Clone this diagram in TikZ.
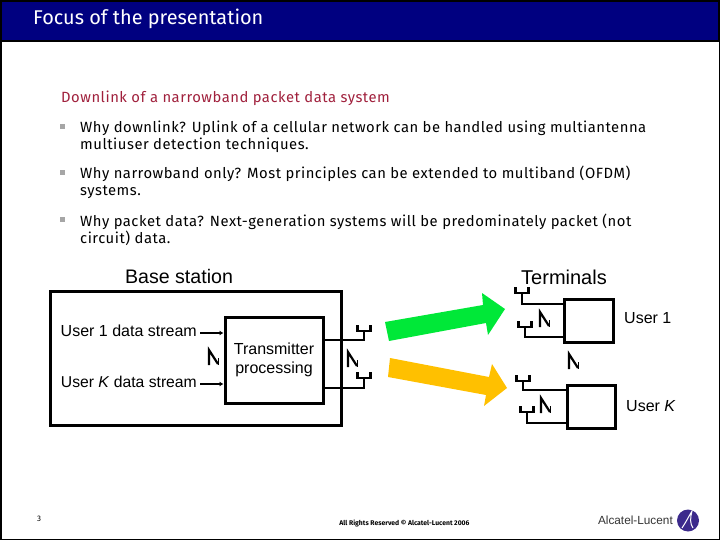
\documentclass[tikz,border=0pt]{standalone}
\usepackage{fontspec}
\usetikzlibrary{arrows.meta}
\setmainfont{Liberation Sans}
\newfontfamily\slidefont[LetterSpace=3.5]{Fira Sans}
\newfontfamily\titlefont{Fira Sans}
\definecolor{titlenavy}{HTML}{000080}
\definecolor{headred}{HTML}{A0203C}
\definecolor{beamgreen}{HTML}{00E838}
\definecolor{beamyellow}{HTML}{FFC000}
\definecolor{logopurple}{HTML}{3C2A8C}
\tikzset{
	wire/.style={line width=2.4pt},
	box/.style={draw, line width=3pt, inner sep=0pt},
	bodytext/.style={anchor=west, align=left, inner sep=0pt, font=\slidefont\fontsize{14.8}{16.8}\selectfont},
	bullet/.style={fill=gray!70, minimum size=5pt, inner sep=0pt},
	difflabel/.style={inner sep=0pt, font=\fontsize{16}{19}\selectfont},
	headlabel/.style={inner sep=0pt, font=\fontsize{19.6}{23}\selectfont},
	antenna/.pic={\draw[wire] (-6.5,-6) -- (-6.5,0) -- (6.5,0) -- (6.5,-6);},
	dotsmark/.pic={\draw[line width=2.2pt] (0,15) -- (0,0) -- (9,14); \draw[line width=0.8pt] (9.5,14.5) -- (9.5,8);}
}
\begin{document}
\begin{tikzpicture}[x=1pt, y=-1pt]
	\useasboundingbox (0,0) rectangle (720,540);
	\draw[line width=1.5pt] (0.75,0.75) rectangle (719.25,539.25);
	% title and bullets
	\node[draw=black, line width=2.5pt, fill=titlenavy, minimum width=718pt, minimum height=40pt, inner sep=0pt] (titlebar) at (360,21) {};
	\node[anchor=west, text=white, inner sep=0pt, font=\titlefont\fontsize{19.9}{23}\selectfont] (title) at (33,19) {Focus of the presentation};
	\node[bodytext, text=headred] (subhead) at (61,98) {Downlink of a narrowband packet data system};
	\node[bullet] (bullet1) at (62.5,127) {};
	\node[bodytext] (why1) at (80,136.5) {Why downlink? Uplink of a cellular network can be handled using multiantenna\\multiuser detection techniques.};
	\node[bullet] (bullet2) at (62.5,173) {};
	\node[bodytext] (why2) at (80,182.5) {Why narrowband only? Most principles can be extended to multiband (OFDM)\\systems.};
	\node[bullet] (bullet3) at (62.5,220) {};
	\node[bodytext] (why3) at (80,229.5) {Why packet data? Next-generation systems will be predominately packet (not\\circuit) data.};
	% base station
	\node[headlabel] (baselabel) at (179,276) {Base station};
	\node[box, minimum width=291pt, minimum height=134pt] (basebox) at (195.5,358) {};
	\node[box, minimum width=98pt, minimum height=86pt, align=center, font=\fontsize{16}{19}\selectfont] (txbox) at (274,360) {\raisebox{3pt}{\begin{tabular}{@{}c@{}}Transmitter\\[0.5pt]processing\end{tabular}}};
	\node[difflabel, anchor=east] (stream1) at (197,331) {User 1 data stream};
	\node[difflabel, anchor=east, font=\fontsize{15.7}{19}\selectfont] (streamK) at (197,382) {User \textit{K} data stream};
	\draw[wire, -{Latex[length=4pt,width=5pt]}] (stream1.east |- 0,333) ++(3,0) coordinate (in1) -- ([yshift=27pt]txbox.west);
	\draw[wire, -{Latex[length=4pt,width=5pt]}] (streamK.east |- 0,384) ++(3,0) coordinate (inK) -- ([yshift=-24pt]txbox.west);
	\pic at (209,350) {dotsmark};
	\pic at (348,352) {dotsmark};
	\coordinate (antB1) at (364,331);
	\coordinate (antBK) at (364,378);
	\pic at (antB1) {antenna};
	\pic at (antBK) {antenna};
	\draw[wire] ([yshift=20pt]txbox.east) -| (antB1);
	\draw[wire] ([yshift=-28pt]txbox.east) -| (antBK);
	% beams
	\fill[beamgreen] (385,322) -- (483,305) -- (482,293) -- (505,309) -- (488,335) -- (486,323) -- (389,341) -- cycle;
	\fill[beamyellow] (390,358) -- (489,377) -- (492,364) -- (507,388) -- (484,406) -- (486,395) -- (388,377) -- cycle;
	% terminals
	\node[headlabel, font=\fontsize{20}{23}\selectfont] (termlabel) at (564,277) {Terminals};
	\node[box, minimum width=49pt, minimum height=43pt] (term1) at (588.5,320.5) {};
	\node[box, minimum width=48pt, minimum height=43pt] (termK) at (591,406.5) {};
	\node[difflabel, anchor=west] (user1) at (624,318) {User 1};
	\node[difflabel, anchor=west] (userK) at (626,406) {User \textit{K}};
	\coordinate (ant1a) at (522,293);
	\coordinate (ant1b) at (525,327);
	\coordinate (antKa) at (523,381);
	\coordinate (antKb) at (527,412);
	\foreach \ant in {ant1a, ant1b, antKa, antKb}
		\pic at (\ant) {antenna};
	\draw[wire] ([yshift=16.5pt]term1.west) -| (ant1a);
	\draw[wire] ([yshift=-16.5pt]term1.west) -| (ant1b);
	\draw[wire] ([yshift=16.5pt]termK.west) -| (antKa);
	\draw[wire] ([yshift=-16.5pt]termK.west) -| (antKb);
	\pic at (540,312) {dotsmark};
	\pic at (569,354) {dotsmark};
	\pic at (541,398) {dotsmark};
	% footer
	\node[inner sep=0pt, font=\titlefont\fontsize{8}{10}\selectfont] (pagenum) at (39,519) {3};
	\node[inner sep=0pt, font=\titlefont\bfseries\fontsize{6.8}{8}\selectfont] (rights) at (404.5,523) {All Rights Reserved © Alcatel-Lucent 2006};
	\node[anchor=east, inner sep=0pt, text=black!80, font=\fontsize{11.8}{14}\selectfont] (logotext) at (673,520) {Alcatel-Lucent};
	\node[circle, fill=logopurple, minimum size=22pt, inner sep=0pt] (logo) at (688,520.5) {};
	\draw[white, line width=1pt] (682,528) .. controls (686,522) and (689,516) .. (692,511) .. controls (690,518) and (690,524) .. (693,528);
\end{tikzpicture}
\end{document}
